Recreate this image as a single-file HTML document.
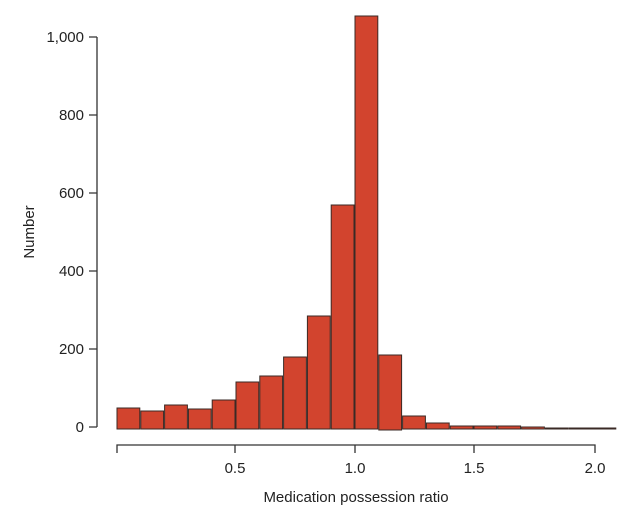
<!DOCTYPE html>
<html><head><style>body{margin:0;background:#fff}svg{display:block}</style></head><body>
<svg width="638" height="518" xmlns="http://www.w3.org/2000/svg" font-family="Liberation Sans, sans-serif" fill="#222">
<g stroke="#333" stroke-width="1.3" fill="none">
<path d="M97 37V427M89 37H97M89 115H97M89 193H97M89 271H97M89 349H97M89 427H97"/>
<path d="M117 453V445H595V453M235 445V453M355 445V453M474 445V453"/>
</g>
<g font-size="15" text-anchor="end">
<text x="84" y="42">1,000</text><text x="84" y="120">800</text><text x="84" y="198">600</text>
<text x="84" y="276">400</text><text x="84" y="354">200</text><text x="84" y="432">0</text>
</g>
<g font-size="15" text-anchor="middle">
<text x="235" y="473">0.5</text><text x="355" y="473">1.0</text><text x="474" y="473">1.5</text><text x="595" y="473">2.0</text>
<text x="356" y="502">Medication possession ratio</text>
<text transform="translate(34 232) rotate(-90)">Number</text>
</g>
<g fill="#d2442e" stroke="#3a2a25" stroke-width="1">
<rect x="117" y="408" width="22.8" height="21"/>
<rect x="140.8" y="411" width="22.8" height="18"/>
<rect x="164.6" y="405" width="22.8" height="24"/>
<rect x="188.4" y="409" width="22.8" height="20"/>
<rect x="212.2" y="400" width="22.8" height="29"/>
<rect x="236" y="382" width="22.8" height="47"/>
<rect x="259.8" y="376" width="22.8" height="53"/>
<rect x="283.6" y="357" width="22.8" height="72"/>
<rect x="307.4" y="316" width="22.8" height="113"/>
<rect x="331.2" y="205" width="22.8" height="224"/>
<rect x="355" y="16" width="22.8" height="413"/>
<rect x="378.8" y="355" width="22.8" height="75"/>
<rect x="402.6" y="416" width="22.8" height="13"/>
<rect x="426.4" y="423" width="22.8" height="6"/>
<rect x="450.2" y="426" width="22.8" height="3"/>
<rect x="474" y="426" width="22.8" height="3"/>
<rect x="497.8" y="426" width="22.8" height="3"/>
<rect x="521.6" y="427" width="22.8" height="2"/>
<rect x="545.4" y="428" width="22.8" height="1"/>
<rect x="569.2" y="428" width="22.8" height="1"/>
<rect x="593" y="428" width="22.8" height="1"/>
</g>
</svg>
</body></html>
